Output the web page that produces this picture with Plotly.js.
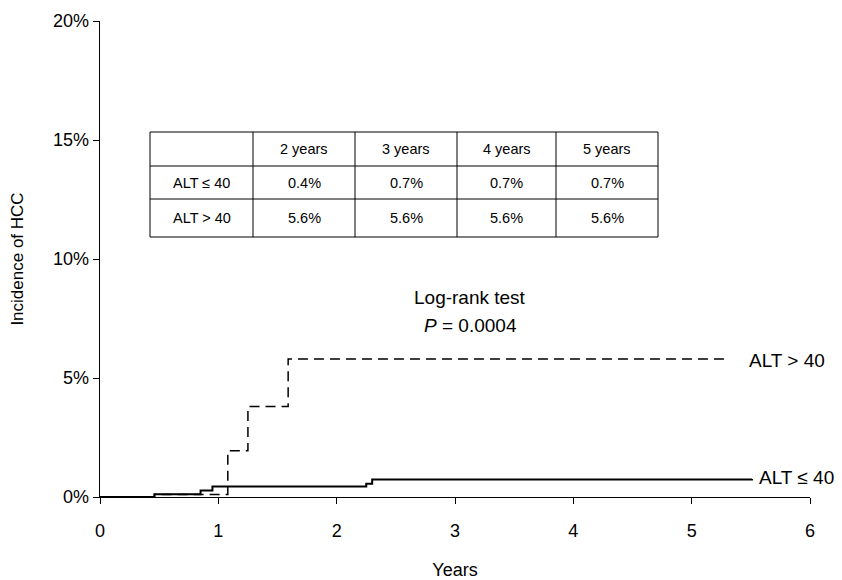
<!DOCTYPE html>
<html>
<head>
<meta charset="utf-8">
<script src="https://cdn.plot.ly/plotly-3.0.1.min.js"></script>
<style>html,body{margin:0;padding:0;background:#fff;}#chart{width:842px;height:580px;}</style>
</head>
<body>
<div id="chart"></div>
<script>
// Cumulative incidence (%) step curves
var lowYears  = [0, 0.46, 0.85, 0.95, 2.25, 2.30, 5.51];
var lowInc    = [0, 0.12, 0.27, 0.44, 0.56, 0.74, 0.76];
var highYears = [0, 0.46, 1.08, 1.25, 1.59, 5.31];
var highInc   = [0, 0.10, 1.94, 3.80, 5.80, 5.80];

var lowLabel  = 'ALT ≤ 40';
var highLabel = 'ALT > 40';

// Inset table
var tableHeader = ['', '2 years', '3 years', '4 years', '5 years'];
var tableGroups = ['ALT ≤ 40', 'ALT > 40'];
var tableLow    = ['0.4%', '0.7%', '0.7%', '0.7%'];
var tableHigh   = ['5.6%', '5.6%', '5.6%', '5.6%'];

var xTicks = [0, 1, 2, 3, 4, 5, 6];
var yTicks = [0, 5, 10, 15, 20];
var yTickText = ['0%', '5%', '10%', '15%', '20%'];

var FONT = 'Liberation Sans, Arial, Helvetica, sans-serif';

// ---- layout geometry (pixels) ----
var W = 842, H = 580;
var M = {l: 100, r: 32, t: 21, b: 83};
var PW = W - M.l - M.r, PH = H - M.t - M.b;
function px2paperX(px) { return (px - M.l) / PW; }
function px2paperY(py) { return (H - M.b - py) / PH; }

var tableLeft = 150, tableTop = 132;
var colWidths = [103, 102, 102, 99, 102];
var rowHeights = [34, 33, 38];

var colEdges = [tableLeft];
colWidths.forEach(function (w) { colEdges.push(colEdges[colEdges.length - 1] + w); });
var rowEdges = [tableTop];
rowHeights.forEach(function (h) { rowEdges.push(rowEdges[rowEdges.length - 1] + h); });

var tableRows = [tableHeader, [tableGroups[0]].concat(tableLow), [tableGroups[1]].concat(tableHigh)];

var shapes = [];
var lineStyle = {color: '#000', width: 1};
shapes.push({type: 'rect', xref: 'paper', yref: 'paper',
  x0: px2paperX(colEdges[0]), x1: px2paperX(colEdges[colEdges.length - 1]),
  y0: px2paperY(rowEdges[0]), y1: px2paperY(rowEdges[rowEdges.length - 1]), line: lineStyle});
for (var c = 1; c < colEdges.length - 1; c++) {
  shapes.push({type: 'line', xref: 'paper', yref: 'paper', x0: px2paperX(colEdges[c]), x1: px2paperX(colEdges[c]),
    y0: px2paperY(rowEdges[0]), y1: px2paperY(rowEdges[rowEdges.length - 1]), line: lineStyle});
}
for (var r = 1; r < rowEdges.length - 1; r++) {
  shapes.push({type: 'line', xref: 'paper', yref: 'paper', x0: px2paperX(colEdges[0]), x1: px2paperX(colEdges[colEdges.length - 1]),
    y0: px2paperY(rowEdges[r]), y1: px2paperY(rowEdges[r]), line: lineStyle});
}

var annotations = [];
tableRows.forEach(function (row, ri) {
  row.forEach(function (txt, ci) {
    if (!txt) return;
    annotations.push({xref: 'paper', yref: 'paper',
      x: px2paperX((colEdges[ci] + colEdges[ci + 1]) / 2),
      y: px2paperY((rowEdges[ri] + rowEdges[ri + 1]) / 2),
      text: txt, showarrow: false, xanchor: 'center', yanchor: 'middle',
      font: {family: FONT, size: 14.5, color: '#000'}});
  });
});

annotations.push(
  {x: 3.13, y: 8.40, xref: 'x', yref: 'y', text: 'Log-rank test', showarrow: false, font: {family: FONT, size: 19}},
  {x: 3.13, y: 7.22, xref: 'x', yref: 'y', text: '<i>P</i> = 0.0004', showarrow: false, font: {family: FONT, size: 19}},
  {x: highYears[highYears.length - 1] + 0.16, y: highInc[highInc.length - 1] - 0.08, xref: 'x', yref: 'y', text: highLabel, xanchor: 'left', showarrow: false, font: {family: FONT, size: 19}},
  {x: lowYears[lowYears.length - 1] + 0.04, y: lowInc[lowInc.length - 1] + 0.04, xref: 'x', yref: 'y', text: lowLabel, xanchor: 'left', showarrow: false, font: {family: FONT, size: 19}}
);

var traces = [
  {x: lowYears, y: lowInc, type: 'scatter', mode: 'lines', line: {shape: 'hv', color: '#000', width: 2}, hoverinfo: 'skip', showlegend: false},
  {x: highYears, y: highInc, type: 'scatter', mode: 'lines', line: {shape: 'hv', color: '#000', width: 1.5, dash: '10px,6px'}, hoverinfo: 'skip', showlegend: false}
];

var layout = {
  width: W, height: H,
  margin: M,
  paper_bgcolor: '#fff', plot_bgcolor: '#fff',
  font: {family: FONT, size: 18, color: '#000'},
  showlegend: false,
  xaxis: {range: [0, 6], tickmode: 'array', tickvals: xTicks, ticks: 'outside', ticklen: 6, tickcolor: '#000', tickwidth: 1,
          ticklabelstandoff: 11,
          showline: true, linecolor: '#000', linewidth: 1.3, showgrid: false, zeroline: false,
          tickfont: {family: FONT, size: 18},
          title: {text: 'Years', font: {family: FONT, size: 18}, standoff: 27}},
  yaxis: {range: [0, 20], tickmode: 'array', tickvals: yTicks, ticktext: yTickText, ticks: 'outside', ticklen: 6, tickcolor: '#000', tickwidth: 1,
          showline: true, linecolor: '#000', linewidth: 1.3, showgrid: false, zeroline: false,
          tickfont: {family: FONT, size: 18},
          title: {text: 'Incidence of HCC', font: {family: FONT, size: 17}, standoff: 25}},
  shapes: shapes,
  annotations: annotations
};

Plotly.newPlot('chart', traces, layout, {displayModeBar: false, staticPlot: true});
</script>
</body>
</html>
